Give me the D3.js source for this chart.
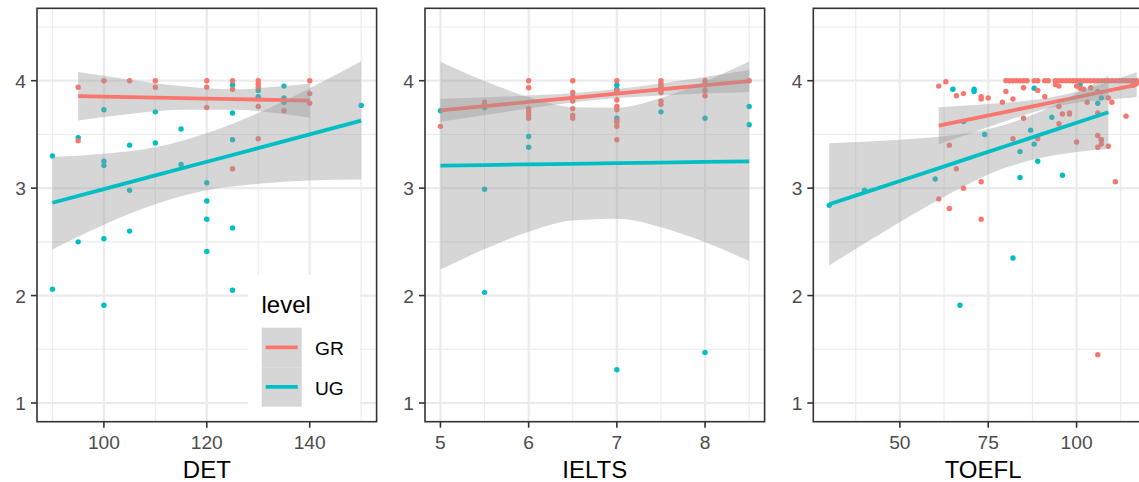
<!DOCTYPE html>
<html>
<head>
<meta charset="utf-8">
<script src="https://cdn.jsdelivr.net/npm/d3@7"></script>
<style>
  body { margin: 0; background: #fff; }
  svg { font-family: "Liberation Sans", Arial, sans-serif; }
</style>
</head>
<body>
<div id="chart"></div>
<script>
// scores by level: [test score, gpa]
const detGR = [[95,3.94],[95,3.44],[100,4.0],[105,4.0],[110,4.0],[110,3.94],[120,4.0],[120,3.94],[120,3.75],
  [125,4.0],[125,3.92],[125,3.18],[130,4.0],[130,3.97],[130,3.94],[130,3.76],[130,3.46],[135,3.72],
  [140,4.0],[140,3.88],[140,3.79]];
const detUG = [[90,3.30],[90,2.06],[95,3.47],[95,2.50],[100,3.73],[100,3.25],[100,3.21],[100,2.53],[100,1.91],
  [105,3.40],[105,2.98],[105,2.60],[110,3.71],[110,3.42],[115,3.55],[115,3.22],[120,3.05],[120,2.88],
  [120,2.71],[120,2.41],[125,3.96],[125,3.70],[125,3.45],[125,2.63],[125,2.05],[130,3.91],[130,3.85],
  [135,3.95],[135,3.84],[135,3.80],[150,3.77]];

const ieltsGR = [[5,3.575],[5.5,3.80],[5.5,3.78],[6,4.0],[6,3.935],[6,3.74],[6,3.71],[6,3.68],[6,3.65],
  [6.5,4.0],[6.5,3.89],[6.5,3.85],[6.5,3.81],[6.5,3.74],[6.5,3.68],[6.5,3.65],[7,4.0],[7,3.91],[7,3.82],
  [7,3.76],[7,3.73],[7,3.63],[7,3.61],[7,3.575],[7,3.45],[7.5,4.0],[7.5,3.975],[7.5,3.95],[7.5,3.93],
  [7.5,3.89],[7.5,3.81],[7.5,3.78],[8,4.0],[8,3.96],[8,3.91],[8,3.86],[8.5,4.0]];
const ieltsUG = [[5,3.72],[5.5,3.75],[5.5,2.99],[5.5,2.03],[6,3.48],[6,3.38],[7,3.96],[7,3.92],[7,3.65],
  [7,1.31],[7.5,3.71],[8,3.65],[8,1.47],[8.5,3.76],[8.5,3.59]];

const toeflGR = [[61,3.95],[63,3.99],[66,3.86],[68,3.88],[73,3.85],[73,3.83],[75,3.84],[79,3.80],[80,3.90],
  [82,3.83],[85,3.935],[89,3.91],[91,3.85],[94,3.965],[95,3.95],[95,3.76],[96,3.69],[98,3.69],[98,3.70],
  [100,3.95],[101,3.93],[102,3.92],[103,3.80],[104,3.935],[106,3.90],[106,3.70],[106,3.49],[107,3.45],
  [109,3.84],[110,3.80],[114,3.67],[116,3.96],[117,3.975],[64,3.40],[66,3.18],[68,3.00],[73,3.06],
  [61,2.90],[64,2.81],[73,2.71],[82,3.46],[89,3.46],[85,3.65],[95,3.60],[100,3.43],[106,3.38],
  [107,3.41],[109,3.39],[111,3.06],[106,1.45],
  [80,4.0],[81,4.0],[82,4.0],[83,4.0],[84,4.0],[85,4.0],[86,4.0],[88,4.0],[89,4.0],[91,4.0],[92,4.0],
  [94,4.0],[95,4.0],[96,4.0],[97,4.0],[98,4.0],[99,4.0],[100,4.0],[101,4.0],[102,4.0],[103,4.0],
  [104,4.0],[105,4.0],[106,4.0],[107,4.0],[108,4.0],[109,4.0],[110,4.0],[111,4.0],[112,4.0],[113,4.0],
  [114,4.0],[115,4.0],[116,4.0],[117,4.0]];
const toeflUG = [[30,2.84],[40,2.98],[65,3.92],[71,3.92],[71,3.90],[68,3.62],[74,3.50],[60,3.085],[67,1.91],
  [82,2.35],[84,3.34],[84,3.10],[87,3.54],[88,3.41],[88,3.93],[89,3.25],[93,3.66],[96,3.12],[101,3.96],
  [106,3.79],[107,3.84],[107,3.45]];

// smooth fits (lm) with confidence band: x, fit, lower, upper
const detGRfit = { x: [95,105,115,125,135,140], fit: [3.857,3.848,3.838,3.829,3.820,3.815],
  lo: [3.63,3.69,3.73,3.73,3.69,3.655], hi: [4.08,4.01,3.95,3.92,3.95,3.975] };
const detUGfit = { x: [90,100,110,120,130,140,150], fit: [2.864,2.991,3.119,3.246,3.373,3.501,3.628],
  lo: [2.43,2.66,2.85,2.98,3.04,3.07,3.08], hi: [3.29,3.32,3.38,3.51,3.70,3.93,4.18] };
const ieltsGRfit = { x: [5,5.5,6,6.5,7,7.5,8,8.5], fit: [3.724,3.763,3.802,3.841,3.880,3.919,3.958,3.997],
  lo: [3.617,3.681,3.742,3.798,3.839,3.863,3.881,3.895], hi: [3.831,3.845,3.862,3.884,3.922,3.975,4.035,4.099] };
const ieltsUGfit = { x: [5,5.5,6,6.5,7,7.5,8,8.5], fit: [3.209,3.215,3.221,3.226,3.232,3.238,3.244,3.250],
  lo: [2.242,2.433,2.594,2.698,2.714,2.636,2.496,2.322], hi: [4.176,3.997,3.848,3.754,3.750,3.840,3.992,4.178] };
const toeflGRfit = { x: [61,70,80,90,100,110,117], fit: [3.581,3.642,3.710,3.778,3.846,3.914,3.962],
  lo: [3.409,3.512,3.624,3.727,3.795,3.828,3.846], hi: [3.753,3.772,3.796,3.829,3.897,4.000,4.079] };
const toeflUGfit = { x: [30,40,50,60,70,80,90,100,109], fit: [2.850,2.958,3.067,3.175,3.284,3.392,3.500,3.609,3.706],
  lo: [2.282,2.484,2.684,2.874,3.049,3.191,3.284,3.337,3.365], hi: [3.418,3.432,3.450,3.476,3.519,3.593,3.716,3.881,4.047] };

const yTicks = [1, 2, 3, 4];
const yMinor = [1.5, 2.5, 3.5, 4.5];
const levels = ["GR", "UG"];
const colors = { GR: "#F8766D", UG: "#00BFC4" };

const panels = [
  { title: "DET", left: 37, domain: [87, 153], ticks: [100, 120, 140], minor: [90, 110, 130, 150],
    GR: detGR, UG: detUG, GRfit: detGRfit, UGfit: detUGfit, legend: true },
  { title: "IELTS", left: 425, domain: [4.825, 8.675], ticks: [5, 6, 7, 8], minor: [5.5, 6.5, 7.5, 8.5],
    GR: ieltsGR, UG: ieltsUG, GRfit: ieltsGRfit, UGfit: ieltsUGfit },
  { title: "TOEFL", left: 813.3, domain: [25.5, 121.6], ticks: [50, 75, 100], minor: [37.5, 62.5, 87.5, 112.5],
    GR: toeflGR, UG: toeflUG, GRfit: toeflGRfit, UGfit: toeflUGfit }
];

const W = 1139, H = 482;
const pw = 339.6, pTop = 8.3, pBottom = 421.7;

const svg = d3.select("#chart").append("svg")
  .attr("width", W).attr("height", H);

const y = d3.scaleLinear().domain([0.826, 4.674]).range([pBottom, pTop]);

panels.forEach(function(p, i) {
  const x = d3.scaleLinear().domain(p.domain).range([p.left, p.left + pw]);
  const g = svg.append("g");

  g.append("clipPath").attr("id", "clip" + i)
    .append("rect").attr("x", p.left).attr("y", pTop).attr("width", pw).attr("height", pBottom - pTop);

  g.append("rect").attr("x", p.left).attr("y", pTop).attr("width", pw).attr("height", pBottom - pTop)
    .attr("fill", "#fff");

  const grid = g.append("g").attr("clip-path", "url(#clip" + i + ")");
  // minor grid
  grid.selectAll(".mx").data(p.minor).enter().append("line")
    .attr("x1", d => x(d)).attr("x2", d => x(d)).attr("y1", pTop).attr("y2", pBottom)
    .attr("stroke", "#ebebeb").attr("stroke-width", 1.1);
  grid.selectAll(".my").data(yMinor).enter().append("line")
    .attr("y1", d => y(d)).attr("y2", d => y(d)).attr("x1", p.left).attr("x2", p.left + pw)
    .attr("stroke", "#ebebeb").attr("stroke-width", 1.1);
  // major grid
  grid.selectAll(".Mx").data(p.ticks).enter().append("line")
    .attr("x1", d => x(d)).attr("x2", d => x(d)).attr("y1", pTop).attr("y2", pBottom)
    .attr("stroke", "#ebebeb").attr("stroke-width", 2.2);
  grid.selectAll(".My").data(yTicks).enter().append("line")
    .attr("y1", d => y(d)).attr("y2", d => y(d)).attr("x1", p.left).attr("x2", p.left + pw)
    .attr("stroke", "#ebebeb").attr("stroke-width", 2.2);

  const plot = g.append("g").attr("clip-path", "url(#clip" + i + ")");

  // points (UG first, GR on top)
  ["UG", "GR"].forEach(function(lv) {
    plot.selectAll(".pt" + lv).data(p[lv]).enter().append("circle")
      .attr("cx", d => x(d[0])).attr("cy", d => y(d[1])).attr("r", 2.7)
      .attr("fill", colors[lv]);
  });

  // smooths: ribbon then line, per group
  levels.forEach(function(lv) {
    const f = p[lv + "fit"];
    const rows = f.x.map((v, k) => ({ x: v, fit: f.fit[k], lo: f.lo[k], hi: f.hi[k] }));
    plot.append("path").datum(rows)
      .attr("d", d3.area().curve(d3.curveMonotoneX)
        .x(d => x(d.x)).y0(d => y(d.lo)).y1(d => y(d.hi)))
      .attr("fill", "#999999").attr("fill-opacity", 0.4);
    plot.append("path").datum(rows)
      .attr("d", d3.line().x(d => x(d.x)).y(d => y(d.fit)))
      .attr("fill", "none").attr("stroke", colors[lv]).attr("stroke-width", 3.8);
  });

  // legend inside first panel
  if (p.legend) {
    const lg = g.append("g");
    lg.append("rect").attr("x", 248.3).attr("y", 275).attr("width", 111.5).attr("height", 146)
      .attr("fill", "#fff");
    lg.append("text").attr("x", 261.5).attr("y", 313).attr("font-size", 24).attr("fill", "#000")
      .text("level");
    levels.forEach(function(lv, k) {
      const ky = 327.7 + k * 39.5;
      lg.append("rect").attr("x", 261.7).attr("y", ky).attr("width", 40).attr("height", 39.5)
        .attr("fill", "#d6d6d6");
      lg.append("line").attr("x1", 265.7).attr("x2", 297.7)
        .attr("y1", ky + 19.7).attr("y2", ky + 19.7)
        .attr("stroke", colors[lv]).attr("stroke-width", 3.8);
      lg.append("text").attr("x", 315).attr("y", ky + 27.5).attr("font-size", 19.2).attr("fill", "#000")
        .text(lv);
    });
  }

  // border
  g.append("rect").attr("x", p.left).attr("y", pTop).attr("width", pw).attr("height", pBottom - pTop)
    .attr("fill", "none").attr("stroke", "#333333").attr("stroke-width", 1.6);

  // y axis
  g.selectAll(".yt").data(yTicks).enter().append("line")
    .attr("x1", p.left - 6).attr("x2", p.left).attr("y1", d => y(d)).attr("y2", d => y(d))
    .attr("stroke", "#333333").attr("stroke-width", 1.6);
  g.selectAll(".yl").data(yTicks).enter().append("text")
    .attr("x", p.left - 11).attr("y", d => y(d) + 7.3)
    .attr("text-anchor", "end").attr("font-size", 19.2).attr("fill", "#4d4d4d")
    .text(d => d);

  // x axis
  g.selectAll(".xt").data(p.ticks).enter().append("line")
    .attr("x1", d => x(d)).attr("x2", d => x(d)).attr("y1", pBottom).attr("y2", pBottom + 6)
    .attr("stroke", "#333333").attr("stroke-width", 1.6);
  g.selectAll(".xl").data(p.ticks).enter().append("text")
    .attr("x", d => x(d)).attr("y", 449.3)
    .attr("text-anchor", "middle").attr("font-size", 19.2).attr("fill", "#4d4d4d")
    .text(d => d);

  g.append("text").attr("x", p.left + pw / 2).attr("y", 478)
    .attr("text-anchor", "middle").attr("font-size", 24).attr("fill", "#000")
    .text(p.title);
});
</script>
</body>
</html>
